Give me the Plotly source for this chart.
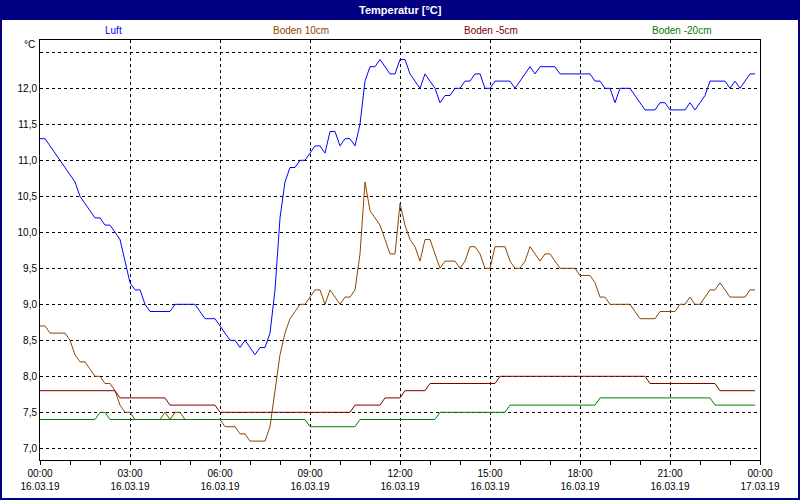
import pandas as pd
import plotly.graph_objects as go

times = pd.date_range("2019-03-16 00:00", periods=144, freq="10min")

luft = [
    11.3, 11.3, 11.2, 11.1, 11.0, 10.9, 10.8, 10.7, 10.5, 10.4,
    10.3, 10.2, 10.2, 10.1, 10.1, 10.0, 9.9, 9.6, 9.3, 9.2,
    9.2, 9.0, 8.9, 8.9, 8.9, 8.9, 8.9, 9.0, 9.0, 9.0,
    9.0, 9.0, 8.9, 8.8, 8.8, 8.8, 8.7, 8.6, 8.5, 8.5,
    8.4, 8.5, 8.4, 8.3, 8.4, 8.4, 8.6, 9.2, 10.2, 10.7,
    10.9, 10.9, 11.0, 11.0, 11.1, 11.2, 11.2, 11.1, 11.4, 11.4,
    11.2, 11.3, 11.3, 11.2, 11.5, 12.1, 12.3, 12.3, 12.4, 12.3,
    12.2, 12.2, 12.4, 12.4, 12.2, 12.1, 12.0, 12.2, 12.1, 12.0,
    11.8, 11.9, 11.9, 12.0, 12.0, 12.1, 12.1, 12.2, 12.2, 12.0,
    12.0, 12.1, 12.1, 12.1, 12.1, 12.0, 12.1, 12.2, 12.3, 12.2,
    12.3, 12.3, 12.3, 12.3, 12.2, 12.2, 12.2, 12.2, 12.2, 12.2,
    12.2, 12.1, 12.1, 12.0, 12.0, 11.8, 12.0, 12.0, 12.0, 11.9,
    11.8, 11.7, 11.7, 11.7, 11.8, 11.8, 11.7, 11.7, 11.7, 11.7,
    11.8, 11.7, 11.8, 11.9, 12.1, 12.1, 12.1, 12.1, 12.0, 12.1,
    12.0, 12.1, 12.2, 12.2,
]

boden10 = [
    8.7, 8.7, 8.6, 8.6, 8.6, 8.6, 8.5, 8.3, 8.2, 8.2,
    8.1, 8.0, 8.0, 7.9, 7.9, 7.8, 7.6, 7.5, 7.5, 7.4,
    7.4, 7.4, 7.4, 7.4, 7.4, 7.5, 7.4, 7.5, 7.5, 7.4,
    7.4, 7.4, 7.4, 7.4, 7.4, 7.4, 7.4, 7.3, 7.3, 7.3,
    7.2, 7.2, 7.1, 7.1, 7.1, 7.1, 7.3, 7.8, 8.3, 8.6,
    8.8, 8.9, 9.0, 9.0, 9.1, 9.2, 9.2, 9.0, 9.2, 9.1,
    9.0, 9.1, 9.1, 9.2, 9.7, 10.7, 10.3, 10.2, 10.1, 9.9,
    9.7, 9.7, 10.4, 10.1, 9.9, 9.8, 9.6, 9.9, 9.9, 9.7,
    9.5, 9.6, 9.6, 9.6, 9.5, 9.6, 9.8, 9.8, 9.7, 9.5,
    9.5, 9.8, 9.8, 9.8, 9.6, 9.5, 9.5, 9.6, 9.8, 9.7,
    9.6, 9.7, 9.7, 9.6, 9.5, 9.5, 9.5, 9.5, 9.4, 9.4,
    9.4, 9.3, 9.1, 9.1, 9.0, 9.0, 9.0, 9.0, 9.0, 8.9,
    8.8, 8.8, 8.8, 8.8, 8.9, 8.9, 8.9, 8.9, 9.0, 9.0,
    9.1, 9.0, 9.0, 9.1, 9.2, 9.2, 9.3, 9.2, 9.1, 9.1,
    9.1, 9.1, 9.2, 9.2,
]

boden_m5 = [
    7.8, 7.8, 7.8, 7.8, 7.8, 7.8, 7.8, 7.8, 7.8, 7.8, 7.8, 7.8,
    7.8, 7.8, 7.8, 7.8, 7.7, 7.7, 7.7, 7.7, 7.7, 7.7, 7.7, 7.7,
    7.7, 7.7, 7.6, 7.6, 7.6, 7.6, 7.6, 7.6, 7.6, 7.6, 7.6, 7.6,
    7.5, 7.5, 7.5, 7.5, 7.5, 7.5, 7.5, 7.5, 7.5, 7.5, 7.5, 7.5,
    7.5, 7.5, 7.5, 7.5, 7.5, 7.5, 7.5, 7.5, 7.5, 7.5, 7.5, 7.5,
    7.5, 7.5, 7.5, 7.6, 7.6, 7.6, 7.6, 7.6, 7.6, 7.7, 7.7, 7.7,
    7.7, 7.8, 7.8, 7.8, 7.8, 7.8, 7.9, 7.9, 7.9, 7.9, 7.9, 7.9,
    7.9, 7.9, 7.9, 7.9, 7.9, 7.9, 7.9, 7.9, 8.0, 8.0, 8.0, 8.0,
    8.0, 8.0, 8.0, 8.0, 8.0, 8.0, 8.0, 8.0, 8.0, 8.0, 8.0, 8.0,
    8.0, 8.0, 8.0, 8.0, 8.0, 8.0, 8.0, 8.0, 8.0, 8.0, 8.0, 8.0,
    8.0, 8.0, 7.9, 7.9, 7.9, 7.9, 7.9, 7.9, 7.9, 7.9, 7.9, 7.9,
    7.9, 7.9, 7.9, 7.9, 7.8, 7.8, 7.8, 7.8, 7.8, 7.8, 7.8, 7.8,
]

boden_m20 = [
    7.4, 7.4, 7.4, 7.4, 7.4, 7.4, 7.4, 7.4, 7.4, 7.4, 7.4, 7.4,
    7.5, 7.5, 7.4, 7.4, 7.4, 7.4, 7.4, 7.4, 7.4, 7.4, 7.4, 7.4,
    7.4, 7.4, 7.4, 7.4, 7.4, 7.4, 7.4, 7.4, 7.4, 7.4, 7.4, 7.4,
    7.4, 7.4, 7.4, 7.4, 7.4, 7.4, 7.4, 7.4, 7.4, 7.4, 7.4, 7.4,
    7.4, 7.4, 7.4, 7.4, 7.4, 7.4, 7.3, 7.3, 7.3, 7.3, 7.3, 7.3,
    7.3, 7.3, 7.3, 7.3, 7.4, 7.4, 7.4, 7.4, 7.4, 7.4, 7.4, 7.4,
    7.4, 7.4, 7.4, 7.4, 7.4, 7.4, 7.4, 7.4, 7.5, 7.5, 7.5, 7.5,
    7.5, 7.5, 7.5, 7.5, 7.5, 7.5, 7.5, 7.5, 7.5, 7.5, 7.6, 7.6,
    7.6, 7.6, 7.6, 7.6, 7.6, 7.6, 7.6, 7.6, 7.6, 7.6, 7.6, 7.6,
    7.6, 7.6, 7.6, 7.6, 7.7, 7.7, 7.7, 7.7, 7.7, 7.7, 7.7, 7.7,
    7.7, 7.7, 7.7, 7.7, 7.7, 7.7, 7.7, 7.7, 7.7, 7.7, 7.7, 7.7,
    7.7, 7.7, 7.7, 7.6, 7.6, 7.6, 7.6, 7.6, 7.6, 7.6, 7.6, 7.6,
]

series_names = ["Luft", "Boden 10cm", "Boden -5cm", "Boden -20cm"]
series_colors = ["#0000FF", "#8C4600", "#800000", "#008000"]

x_tickvals = pd.date_range("2019-03-16 00:00", periods=9, freq="3h")
x_ticktext = [
    "00:00<br>16.03.19", "03:00<br>16.03.19", "06:00<br>16.03.19",
    "09:00<br>16.03.19", "12:00<br>16.03.19", "15:00<br>16.03.19",
    "18:00<br>16.03.19", "21:00<br>16.03.19", "00:00<br>17.03.19",
]
y_tickvals = [7.0, 7.5, 8.0, 8.5, 9.0, 9.5, 10.0, 10.5, 11.0, 11.5, 12.0, 12.5]
y_ticktext = ["7,0", "7,5", "8,0", "8,5", "9,0", "9,5", "10,0", "10,5",
              "11,0", "11,5", "12,0", ""]

FONT = "Liberation Sans, Arial, sans-serif"
NAVY = "#000080"

fig = go.Figure()
for vals, name, col in zip([luft, boden10, boden_m5, boden_m20], series_names, series_colors):
    fig.add_trace(go.Scatter(x=times, y=vals, mode="lines", name=name,
                             line=dict(color=col, width=1), showlegend=False))

W, H = 800, 500
ml, mr, mt, mb = 40, 40, 40, 40
pw, ph = W - ml - mr, H - mt - mb

def px(x):
    return (x - ml) / pw

def py(y):
    return (H - mb - y) / ph

shapes = [
    dict(type="rect", xref="paper", yref="paper", x0=px(0), x1=px(W), y0=py(20), y1=py(0),
         fillcolor=NAVY, line=dict(width=0), layer="above"),
    dict(type="rect", xref="paper", yref="paper", x0=px(1), x1=px(W - 1), y0=py(H - 1), y1=py(1),
         fillcolor="rgba(0,0,0,0)", line=dict(color=NAVY, width=2), layer="above"),
]

annotations = [
    dict(text="<b>Temperatur [°C]</b>", xref="paper", yref="paper", x=px(400), y=py(10),
         showarrow=False, font=dict(family=FONT, size=11, color="white"),
         xanchor="center", yanchor="middle"),
    dict(text="°C", xref="paper", yref="paper", x=px(37), y=py(45),
         showarrow=False, font=dict(family=FONT, size=10, color="black"),
         xanchor="right", yanchor="middle"),
]
legend_x = [113, 301, 491, 681]
for name, col, lx in zip(series_names, series_colors, legend_x):
    annotations.append(dict(text=name, xref="paper", yref="paper", x=px(lx), y=py(30),
                            showarrow=False, font=dict(family=FONT, size=10, color=col),
                            xanchor="center", yanchor="middle"))

fig.update_layout(
    width=W, height=H,
    margin=dict(l=ml, r=mr, t=mt, b=mb, pad=0),
    paper_bgcolor="white", plot_bgcolor="white",
    font=dict(family=FONT, size=10, color="black"),
    shapes=shapes, annotations=annotations,
    showlegend=False,
)
fig.update_xaxes(
    range=[pd.Timestamp("2019-03-16 00:00"), pd.Timestamp("2019-03-17 00:00")],
    tickmode="array", tickvals=x_tickvals, ticktext=x_ticktext,
    ticks="outside", ticklen=4, tickcolor="black", tickwidth=1,
    minor=dict(dtick=3600000, ticks="outside", ticklen=4, tickcolor="black", showgrid=False),
    showgrid=True, gridcolor="black", gridwidth=1, griddash="dot",
    showline=True, linecolor="black", linewidth=1, mirror=True,
    zeroline=False, tickfont=dict(family=FONT, size=10, color="black"),
    tickangle=0, automargin=False,
)
fig.update_yaxes(
    range=[6.8375, 12.671],
    tickmode="array", tickvals=y_tickvals, ticktext=y_ticktext,
    ticks="", showgrid=True, gridcolor="black", gridwidth=1, griddash="dot",
    showline=True, linecolor="black", linewidth=1, mirror=True,
    zeroline=False, tickfont=dict(family=FONT, size=10, color="black"),
    automargin=False,
)

fig.write_html("out.html", config={"displayModeBar": False},
               post_script="document.body.style.margin='0';document.body.style.overflow='hidden';")
